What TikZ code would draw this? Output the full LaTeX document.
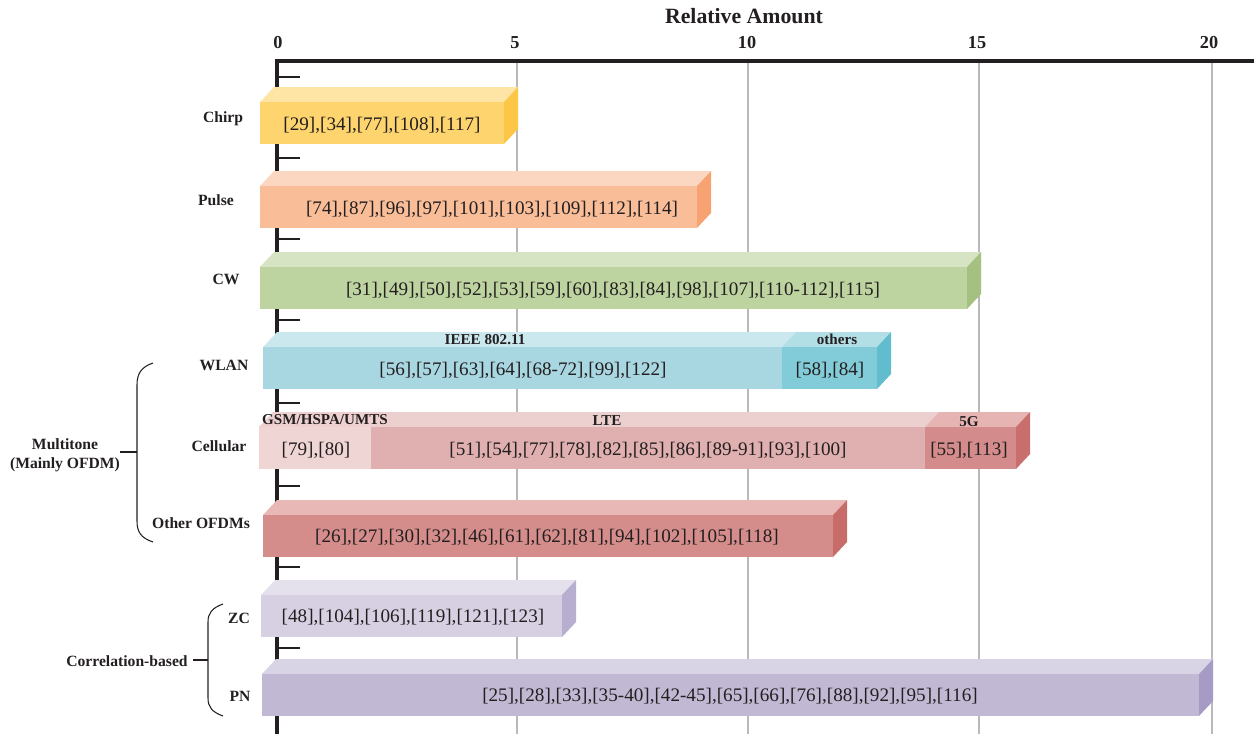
\documentclass[tikz,border=0pt]{standalone}
\usepackage{fontspec}
\setmainfont{Liberation Serif}

\definecolor{axisk}{RGB}{35,31,32}
\definecolor{chirpF}{RGB}{253,212,110}
\definecolor{chirpT}{RGB}{254,228,165}
\definecolor{chirpS}{RGB}{252,199,70}
\definecolor{pulseF}{RGB}{249,189,152}
\definecolor{pulseT}{RGB}{251,214,192}
\definecolor{pulseS}{RGB}{247,163,113}
\definecolor{cwF}{RGB}{189,211,160}
\definecolor{cwT}{RGB}{214,228,196}
\definecolor{cwS}{RGB}{164,193,130}
\definecolor{wlanF}{RGB}{168,214,225}
\definecolor{wlanT}{RGB}{203,232,238}
\definecolor{othF}{RGB}{130,203,216}
\definecolor{othT}{RGB}{178,222,230}
\definecolor{othS}{RGB}{97,188,205}
\definecolor{gsmF}{RGB}{240,213,213}
\definecolor{gsmT}{RGB}{237,208,207}
\definecolor{lteF}{RGB}{224,175,175}
\definecolor{lteT}{RGB}{236,208,207}
\definecolor{fivegF}{RGB}{212,139,139}
\definecolor{fivegT}{RGB}{230,180,178}
\definecolor{fivegS}{RGB}{200,110,108}
\definecolor{ofdmF}{RGB}{213,141,140}
\definecolor{ofdmT}{RGB}{231,184,182}
\definecolor{ofdmS}{RGB}{200,108,106}
\definecolor{zcF}{RGB}{214,208,226}
\definecolor{zcT}{RGB}{228,225,236}
\definecolor{zcS}{RGB}{184,174,207}
\definecolor{pnF}{RGB}{193,185,212}
\definecolor{pnT}{RGB}{217,212,229}
\definecolor{pnS}{RGB}{166,155,196}

% front and top face of one part of a bar: left, right, top of front, colour
\newcommand{\slab}[4]{%
  \fill[#4T] (#1,#3) -- (#1+14,#3-15) -- (#2+14,#3-15) -- (#2,#3) -- cycle;
  \fill[#4F] (#1,#3) rectangle (#2,#3+42);}
% side face at the end of a bar: right, top of front, colour
\newcommand{\slabend}[3]{%
  \fill[#3S] (#1,#2) -- (#1+14,#2-15) -- (#1+14,#2+27) -- (#1,#2+42) -- cycle;}

\begin{document}
\begin{tikzpicture}[x=0.02cm,y=-0.02cm,
  grid/.style={draw=gray!55,line width=0.6pt},
  axis/.style={draw=axisk,line width=1.8pt},
  ref/.style={text=axisk,font=\fontsize{10.9}{13}\selectfont,inner sep=0pt,anchor=base},
  cat/.style={text=axisk,font=\fontsize{8.9}{10.8}\selectfont\bfseries,inner sep=0pt,anchor=base},
  sub/.style={text=axisk,font=\fontsize{8.6}{10}\selectfont\bfseries,inner sep=0pt,anchor=base},
  num/.style={text=axisk,font=\fontsize{10.4}{12}\selectfont\bfseries,inner sep=0pt,anchor=base},
  brace/.style={draw=axisk,line width=0.6pt}]
\useasboundingbox (0,0) rectangle (1254,734);

% grid and axis
\foreach \gx in {517,748,979,1212} \draw[grid] (\gx,61) -- (\gx,734);
\draw[axis] (1254,61) -- (277,61) -- (277,734);
\foreach \ty in {77,158,239,320,403,486,567,648} \draw[axisk,line width=0.6pt] (277,\ty) -- (300,\ty);

\node[num,font=\fontsize{12.4}{14}\selectfont\bfseries] (title) at (744,23) {Relative Amount};
\node[num] (n0) at (278,48) {0};
\node[num] (n5) at (515,48) {5};
\node[num] (n10) at (747,48) {10};
\node[num] (n15) at (977,48) {15};
\node[num] (n20) at (1209,48) {20};

% bars
\slab{260}{504}{102}{chirp} \slabend{504}{102}{chirp}
\slab{260}{697}{186}{pulse} \slabend{697}{186}{pulse}
\slab{260}{967}{267}{cw} \slabend{967}{267}{cw}
\slab{263}{782}{347}{wlan} \slab{782}{877}{347}{oth} \slabend{877}{347}{oth}
\slab{259}{371}{427}{gsm} \slab{371}{925}{427}{lte} \slab{925}{1016}{427}{fiveg} \slabend{1016}{427}{fiveg}
\slab{263}{833}{515}{ofdm} \slabend{833}{515}{ofdm}
\slab{261}{562}{595}{zc} \slabend{562}{595}{zc}
\slab{262}{1199}{674}{pn} \slabend{1199}{674}{pn}

% references on the bars
\node[ref] (chirpref) at (382,130) {[29],[34],[77],[108],[117]};
\node[ref] (pulseref) at (492,214) {[74],[87],[96],[97],[101],[103],[109],[112],[114]};
\node[ref] (cwref) at (613,295) {[31],[49],[50],[52],[53],[59],[60],[83],[84],[98],[107],[110-112],[115]};
\node[ref] (ieeeref) at (523,375) {[56],[57],[63],[64],[68-72],[99],[122]};
\node[ref] (othref) at (830,375) {[58],[84]};
\node[ref] (gsmref) at (316,455) {[79],[80]};
\node[ref] (lteref) at (648,455) {[51],[54],[77],[78],[82],[85],[86],[89-91],[93],[100]};
\node[ref] (fivegref) at (969,455) {[55],[113]};
\node[ref] (ofdmref) at (547,542) {[26],[27],[30],[32],[46],[61],[62],[81],[94],[102],[105],[118]};
\node[ref] (zcref) at (413,622) {[48],[104],[106],[119],[121],[123]};
\node[ref] (pnref) at (730,701) {[25],[28],[33],[35-40],[42-45],[65],[66],[76],[88],[92],[95],[116]};

% sub labels on the top faces
\node[sub] (ieee) at (485,344) {IEEE 802.11};
\node[sub] (others) at (837,344) {others};
\node[sub] (gsm) at (325,424) {GSM/HSPA/UMTS};
\node[sub] (lte) at (607,425) {LTE};
\node[sub] (fiveg) at (969,426) {5G};

% categories
\node[cat] (chirp) at (223,122) {Chirp};
\node[cat] (pulse) at (216,205) {Pulse};
\node[cat] (cw) at (226,284) {CW};
\node[cat] (wlan) at (224,370) {WLAN};
\node[cat] (cell) at (219,451) {Cellular};
\node[cat] (ofdm) at (201,528) {Other OFDMs};
\node[cat] (zc) at (239,623) {ZC};
\node[cat] (pn) at (240,701) {PN};

% groups
\node[cat,anchor=center,align=center] (multi) at (65,455) {Multitone\\(Mainly OFDM)};
\node[cat,inner xsep=3pt] (corr) at (127,666) {Correlation-based};
\coordinate (mtb) at (137,452);
\coordinate (cb) at (208,660);
\draw[brace] (153,363) .. controls (141,367) and (137,374) .. (137,385) -- (137,521) .. controls (137,532) and (141,538) .. (153,542);
\draw[brace] (223,604) .. controls (212,608) and (208,613) .. (208,622) -- (208,698) .. controls (208,707) and (212,712) .. (223,716);
\draw[brace] (mtb) -- (mtb -| multi.east);
\draw[brace] (cb) -- (cb -| corr.east);
\end{tikzpicture}
\end{document}
